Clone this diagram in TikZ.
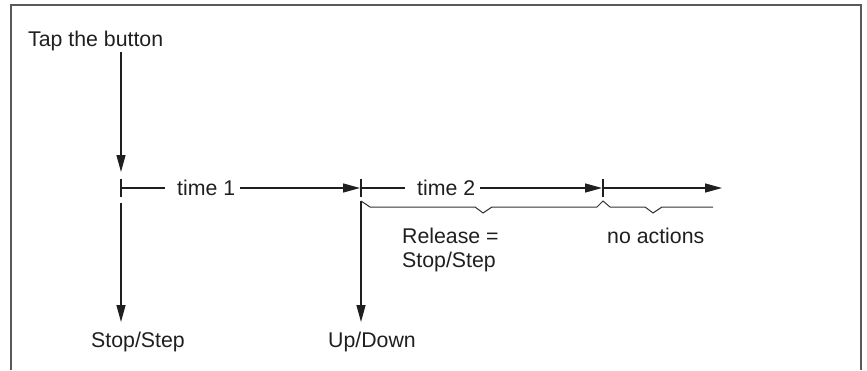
\documentclass[tikz,border=0pt]{standalone}
\usepackage{fontspec}
\setmainfont{Liberation Sans}
\usetikzlibrary{arrows.meta}
\begin{document}
\begin{tikzpicture}[x=1pt,y=-1pt,
  lbl/.style={font=\fontsize{21.3}{24}\selectfont, inner sep=0pt, anchor=base west, text=black!88},
  ln/.style={line width=1.3pt, draw=black!88},
  arr/.style={ln, -{Triangle[length=17pt,width=9pt]}},
  tick/.style={line width=1.1pt, draw=black!88},
  brace/.style={line width=1pt, draw=black!80, line join=miter},
  frame/.style={line width=1.4pt, draw=black!65}]
\useasboundingbox (0,0) rectangle (867,370);
\draw[frame] (11,370) -- (11,5) -- (861,5) -- (861,370);

% texts
\node[lbl] (tap) at (28,46) {Tap the button};
\node[lbl] (time1) at (177,195) {time 1};
\node[lbl] (time2) at (417,195) {time 2};
\node[lbl] (stop) at (91,347) {Stop/Step};
\node[lbl] (updown) at (328,347) {Up/Down};
\node[lbl] (rel1) at (402,243) {Release =};
\node[lbl] (rel2) at (402,267) {Stop/Step};
\node[lbl] (noact) at (607,243) {no actions};

% key points
\coordinate (tapbot) at (121,52);
\coordinate (in1) at (121,172);
\coordinate (t1) at (121,188);
\coordinate (t2) at (361,188);
\coordinate (t3) at (603,188);
\coordinate (t4) at (722,188);
\coordinate (d1top) at (121,203);
\coordinate (d1bot) at (121,322);
\coordinate (d2top) at (361,201);
\coordinate (d2bot) at (361,322);

% input arrow
\draw[arr] (tapbot) -- (in1);

% ticks
\foreach \p in {t1,t2,t3}
  \draw[tick] ([yshift=-9pt]\p) -- ([yshift=9pt]\p);

% time line
\draw[ln] (t1) -- ([xshift=-12pt]time1.west |- t1);
\draw[arr] ([xshift=5pt]time1.east |- t1) -- ([xshift=-1pt]t2);
\draw[ln] (t2) -- ([xshift=-12pt]time2.west |- t2);
\draw[arr] ([xshift=5pt]time2.east |- t2) -- ([xshift=-1pt]t3);
\draw[arr] (t3) -- (t4);

% output arrows
\draw[arr] (d1top) -- (d1bot);
\draw[arr] (d2top) -- (d2bot);

% braces
\draw[brace] (d2top) -- (370,207) -- (475,207) -- (483,213) -- (492,207) -- (597,207)
  -- (603,201) -- (610,207) -- (645,207) -- (653,213) -- (662,207) -- (713,207);
\end{tikzpicture}
\end{document}
